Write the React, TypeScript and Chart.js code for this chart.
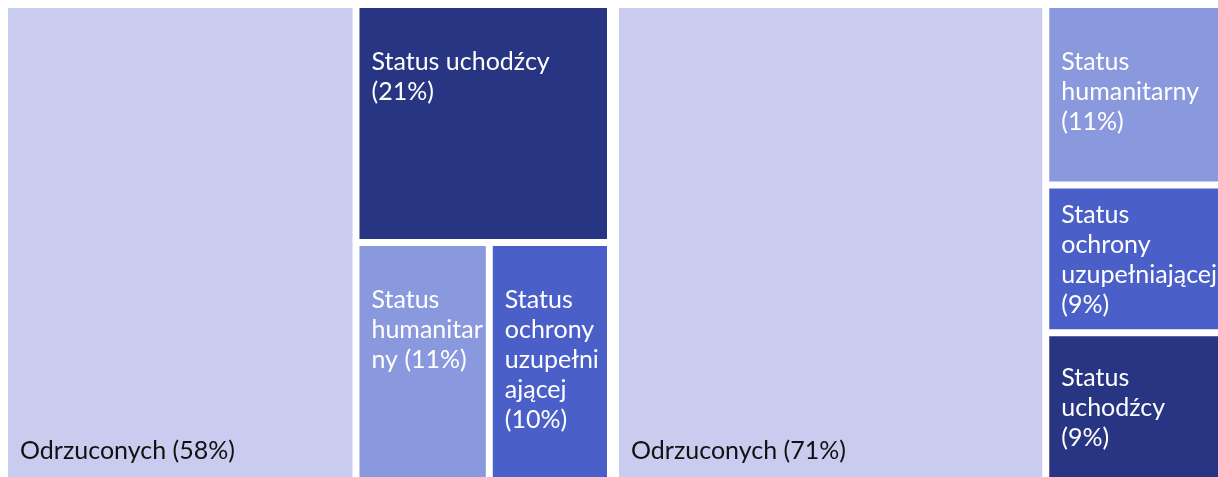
import React, { useEffect, useRef } from 'react';
import { Chart, registerables } from 'chart.js';

Chart.register(...registerables);

// ---- data ----
const groups = ['Panel 1', 'Panel 2'];
const categoriesLeft = ['Odrzuconych', 'Status uchodźcy', 'Status humanitarny', 'Status ochrony uzupełniającej'];
const valuesLeft = [58, 21, 11, 10];
const categoriesRight = ['Odrzuconych', 'Status humanitarny', 'Status ochrony uzupełniającej', 'Status uchodźcy'];
const valuesRight = [71, 11, 9, 9];

// ---- style ----
const COLORS: Record<string, string> = {
  'Odrzuconych': '#C9CCEE',
  'Status uchodźcy': '#283583',
  'Status humanitarny': '#8A98DD',
  'Status ochrony uzupełniającej': '#4B5FC9',
};
const TEXT_COLORS: Record<string, string> = {
  'Odrzuconych': '#111111',
  'Status uchodźcy': '#FFFFFF',
  'Status humanitarny': '#FFFFFF',
  'Status ochrony uzupełniającej': '#FFFFFF',
};
const V_ALIGN = [
  ['bottom', 'top', 'top', 'top'],
  ['bottom', 'top', 'center', 'center'],
];
const W = 1210;
const H = 469;
const PANEL_GAP = 12;
const TILE_GAP = 7;
const FONT = '25px Lato';
const LINE_H = 30;
const PAD_X = 12;
const TOP_PAD = 62;
const BOTTOM_PAD = 18;

type R = { x: number; y: number; w: number; h: number };

function squarify(values: number[], rect: R): R[] {
  const total = values.reduce((a, b) => a + b, 0);
  const order = values.map((_, i) => i).sort((a, b) => values[b] - values[a]);
  const areas = values.map((v) => (v / total) * rect.w * rect.h);
  const out: R[] = new Array(values.length);
  let r: R = { ...rect };
  let row: number[] = [];
  const worst = (idx: number[], w: number) => {
    const a = idx.map((i) => areas[i]);
    const s = a.reduce((p, q) => p + q, 0);
    const mx = Math.max(...a);
    const mn = Math.min(...a);
    return Math.max((w * w * mx) / (s * s), (s * s) / (w * w * mn));
  };
  const layoutRow = (idx: number[]) => {
    const s = idx.reduce((p, i) => p + areas[i], 0);
    if (r.w >= r.h) {
      const cw = s / r.h;
      let y = r.y;
      for (const i of idx) {
        const h = areas[i] / cw;
        out[i] = { x: r.x, y, w: cw, h };
        y += h;
      }
      r = { x: r.x + cw, y: r.y, w: r.w - cw, h: r.h };
    } else {
      const rh = s / r.w;
      let x = r.x;
      for (const i of idx) {
        const w = areas[i] / rh;
        out[i] = { x, y: r.y, w, h: rh };
        x += w;
      }
      r = { x: r.x, y: r.y + rh, w: r.w, h: r.h - rh };
    }
  };
  for (const i of order) {
    const w = Math.min(r.w, r.h);
    if (row.length === 0 || worst([...row, i], w) <= worst(row, w)) row.push(i);
    else {
      layoutRow(row);
      row = [i];
    }
  }
  if (row.length) layoutRow(row);
  return out;
}

const grow = (r: R, d: number): R => ({ x: r.x - d, y: r.y - d, w: r.w + 2 * d, h: r.h + 2 * d });

function buildTiles() {
  const panelValues = [valuesLeft, valuesRight];
  const panelCats = [categoriesLeft, categoriesRight];
  const sums = panelValues.map((v) => v.reduce((a, b) => a + b, 0));
  const panels = squarify(sums, grow({ x: 0, y: 0, w: W, h: H }, PANEL_GAP / 2)).map((p) => grow(p, -PANEL_GAP / 2));
  const tiles: { rect: R; cat: string; value: number; vAlign: string; group: string }[] = [];
  panels.forEach((p, pi) => {
    const rs = squarify(panelValues[pi], grow(p, TILE_GAP / 2)).map((t) => grow(t, -TILE_GAP / 2));
    rs.forEach((rect, i) => {
      tiles.push({ rect, cat: panelCats[pi][i], value: panelValues[pi][i], vAlign: V_ALIGN[pi][i], group: groups[pi] });
    });
  });
  return tiles;
}

// Wrap at spaces; a word that fits within the whole tile stays whole (clipped at the edge),
// a longer word is broken by characters.
function wrap(ctx: CanvasRenderingContext2D, text: string, maxW: number, tileW: number): string[] {
  const words = text.split(' ');
  const lines: string[] = [];
  let line = '';
  for (const word of words) {
    const cand = line ? line + ' ' + word : word;
    if (ctx.measureText(cand).width <= maxW) {
      line = cand;
      continue;
    }
    if (line) lines.push(line);
    if (ctx.measureText(word).width <= tileW) {
      line = word;
    } else {
      let piece = '';
      for (const ch of word) {
        if (piece && ctx.measureText(piece + ch).width > maxW) {
          lines.push(piece);
          piece = ch;
        } else piece += ch;
      }
      line = piece;
    }
  }
  if (line) lines.push(line);
  return lines;
}

export default function App() {
  const ref = useRef<HTMLCanvasElement>(null);
  useEffect(() => {
    if (!ref.current) return;
    const tiles = buildTiles();
    const labelPlugin = {
      id: 'tileLabels',
      afterDatasetsDraw(chart: any) {
        const { ctx, scales } = chart;
        const xs = scales.x;
        const ys = scales.y;
        tiles.forEach((t) => {
          const x0 = xs.getPixelForValue(t.rect.x);
          const x1 = xs.getPixelForValue(t.rect.x + t.rect.w);
          const y0 = ys.getPixelForValue(t.rect.y);
          const y1 = ys.getPixelForValue(t.rect.y + t.rect.h);
          ctx.save();
          ctx.beginPath();
          ctx.rect(x0, y0, x1 - x0, y1 - y0);
          ctx.clip();
          ctx.font = FONT;
          ctx.fillStyle = TEXT_COLORS[t.cat];
          ctx.textAlign = 'left';
          ctx.textBaseline = 'alphabetic';
          const lines = wrap(ctx, `${t.cat} (${t.value}%)`, x1 - x0 - PAD_X, x1 - x0);
          let first: number;
          if (t.vAlign === 'bottom') first = y1 - BOTTOM_PAD - (lines.length - 1) * LINE_H;
          else if (t.vAlign === 'center') first = (y0 + y1) / 2 - ((lines.length - 1) * LINE_H) / 2 + 9;
          else first = y0 + TOP_PAD;
          lines.forEach((l, i) => ctx.fillText(l, x0 + PAD_X, first + i * LINE_H));
          ctx.restore();
        });
      },
    };
    const chart = new Chart(ref.current, {
      type: 'line',
      data: {
        datasets: tiles.map((t) => ({
          label: `${t.group}: ${t.cat}`,
          data: [
            { x: t.rect.x, y: t.rect.y },
            { x: t.rect.x + t.rect.w, y: t.rect.y },
            { x: t.rect.x + t.rect.w, y: t.rect.y + t.rect.h },
            { x: t.rect.x, y: t.rect.y + t.rect.h },
            { x: t.rect.x, y: t.rect.y },
          ],
          fill: 'shape',
          backgroundColor: COLORS[t.cat],
          borderColor: 'rgba(0,0,0,0)',
          borderWidth: 0,
          pointRadius: 0,
          pointHoverRadius: 0,
          tension: 0,
        })),
      },
      options: {
        responsive: false,
        animation: false,
        events: [],
        layout: { padding: { left: 8, top: 8, right: 0, bottom: 0 } },
        plugins: { legend: { display: false }, tooltip: { enabled: false } },
        scales: {
          x: { type: 'linear', min: 0, max: W, display: false },
          y: { type: 'linear', min: 0, max: H, reverse: true, display: false },
        },
      },
      plugins: [labelPlugin],
    } as any);
    return () => chart.destroy();
  }, []);
  return (
    <div style={{ position: 'fixed', left: 0, top: 0, width: 1218, height: 477, background: '#fff' }}>
      <canvas ref={ref} width={1218} height={477} style={{ display: 'block' }} />
    </div>
  );
}
